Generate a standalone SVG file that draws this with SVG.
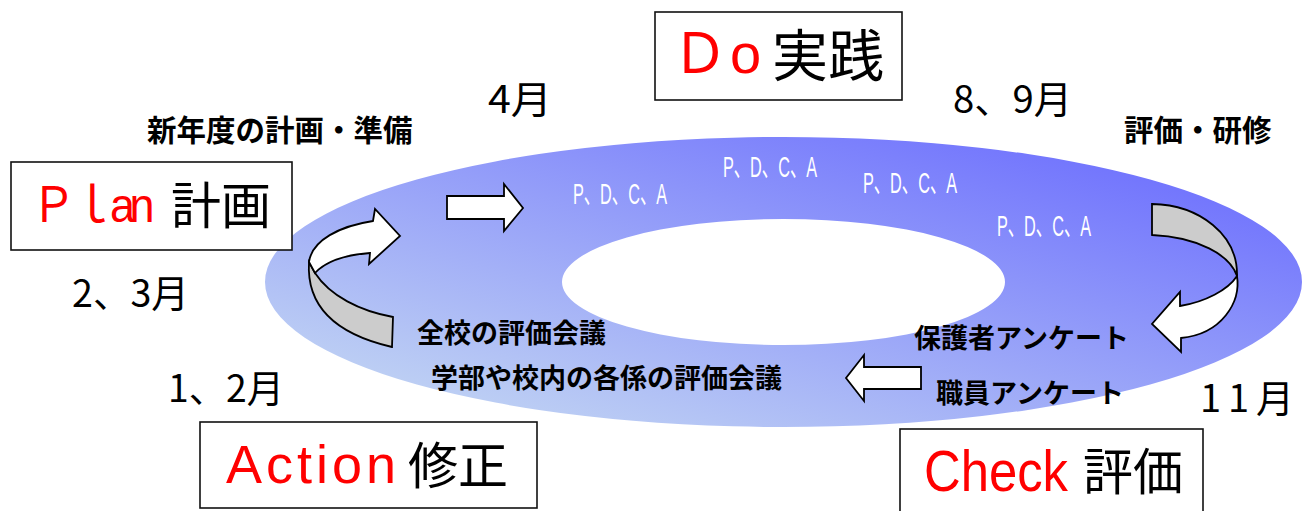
<svg xmlns="http://www.w3.org/2000/svg" width="1308" height="511" viewBox="0 0 1308 511">
<defs>
<linearGradient id="ringGrad" x1="0" y1="1" x2="1" y2="0">
<stop offset="0" stop-color="#cbe0f2"/>
<stop offset="1" stop-color="#6464ff"/>
</linearGradient>
<style>
.box{fill:#fff;stroke:#111;stroke-width:1.6}
.red{fill:#ff0000;font-family:"Liberation Sans","Noto Sans CJK JP",sans-serif}
.cjk{fill:#000;font-family:"Noto Sans CJK JP",sans-serif}
.bold{fill:#000;font-family:"Noto Sans CJK JP",sans-serif;font-weight:700}
.mo{fill:#000;font-family:"Noto Sans CJK JP",sans-serif;font-size:38px}
.pdca{fill:#fff;font-family:"Liberation Sans","Noto Sans CJK JP",sans-serif;font-size:29px}
.arr{fill:#fff;stroke:#000;stroke-width:1.8;stroke-linejoin:miter}
.arrg{fill:#cccccc;stroke:#000;stroke-width:1.8;stroke-linejoin:miter}
</style>
</defs>
<rect width="1308" height="511" fill="#fff"/>

<g id="ring">
<path fill="url(#ringGrad)" fill-rule="evenodd" d="M265,282 a518.5,145 0 1,0 1037,0 a518.5,145 0 1,0 -1037,0 Z M562,282 a221.5,63 0 1,0 443,0 a221.5,63 0 1,0 -443,0 Z"/>
<text class="pdca" x="573" y="204" textLength="94" lengthAdjust="spacingAndGlyphs">P、D、C、A</text>
<text class="pdca" x="723" y="177" textLength="94" lengthAdjust="spacingAndGlyphs">P、D、C、A</text>
<text class="pdca" x="863" y="193" textLength="94" lengthAdjust="spacingAndGlyphs">P、D、C、A</text>
<text class="pdca" x="997" y="236" textLength="94" lengthAdjust="spacingAndGlyphs">P、D、C、A</text>
</g>

<g id="connectors">
<path class="arr" d="M447,196 L504,196 L504,184 L523,208 L504,231 L504,219 L447,219 Z"/>
<path class="arr" d="M921,367 L864,367 L864,355 L846,378 L864,401 L864,389 L921,389 Z"/>
<path class="arrg" d="M309,262 L315,273 C330,296 360,311 393,317 L392,347 C340,335 306,310 309,262 Z"/>
<path class="arr" d="M309,262 C312,240 340,226 373,221 L375,209 L400,236 L369,264 L370,253 C345,255 325,262 315,273 Z"/>
<path class="arrg" d="M1152,204 C1200,205 1238,235 1237,276 C1230,255 1198,237 1152,235 Z"/>
<path class="arr" d="M1237,276 C1241,302 1222,334 1181,338 L1181,352 L1152,324 L1180,292 L1180,306 C1205,302 1228,290 1237,276 Z"/>
</g>

<g id="plan">
<rect class="box" x="11" y="162" width="281" height="88"/>
<text class="red" font-size="49" x="31" y="222" letter-spacing="-6" textLength="118" lengthAdjust="spacingAndGlyphs">Ｐｌan</text>
<text class="cjk" font-size="50" x="171" y="224">計画</text>
</g>

<g id="do">
<rect class="box" x="655" y="12" width="247" height="88"/>
<text class="red" font-size="56" y="73"><tspan x="672">Ｄ</tspan><tspan x="730">o</tspan></text>
<text class="cjk" font-size="56" x="772" y="76">実践</text>
</g>

<g id="action">
<rect class="box" x="200" y="422" width="337" height="86"/>
<text class="red" font-size="54" x="226" y="483" textLength="170" lengthAdjust="spacing">Action</text>
<text class="cjk" font-size="50" x="408" y="484">修正</text>
</g>

<g id="check">
<rect class="box" x="900" y="429" width="303" height="95"/>
<text class="red" font-size="57" x="924" y="491" textLength="144" lengthAdjust="spacingAndGlyphs">Check</text>
<text class="cjk" font-size="50" x="1083" y="490">評価</text>
</g>

<g id="labels">
<text class="bold" font-size="29.5" x="147" y="141">新年度の計画・準備</text>
<text class="bold" font-size="29.5" x="1124" y="141">評価・研修</text>
<text class="bold" font-size="27" x="417" y="343">全校の評価会議</text>
<text class="bold" font-size="27" x="431" y="388">学部や校内の各係の評価会議</text>
<text class="bold" font-size="27" x="914" y="348">保護者アンケート</text>
<text class="bold" font-size="27" x="936" y="403">職員アンケート</text>
<text class="mo" x="488" y="113" textLength="64" lengthAdjust="spacingAndGlyphs">4月</text>
<text class="mo" x="953" y="113" textLength="119" lengthAdjust="spacingAndGlyphs">8、9月</text>
<text class="mo" x="72" y="307" textLength="117" lengthAdjust="spacingAndGlyphs">2、3月</text>
<text class="mo" x="168" y="402" textLength="116" lengthAdjust="spacingAndGlyphs">1、2月</text>
<text class="mo" x="1200" y="412" textLength="94" lengthAdjust="spacing">11月</text>
</g>
</svg>
